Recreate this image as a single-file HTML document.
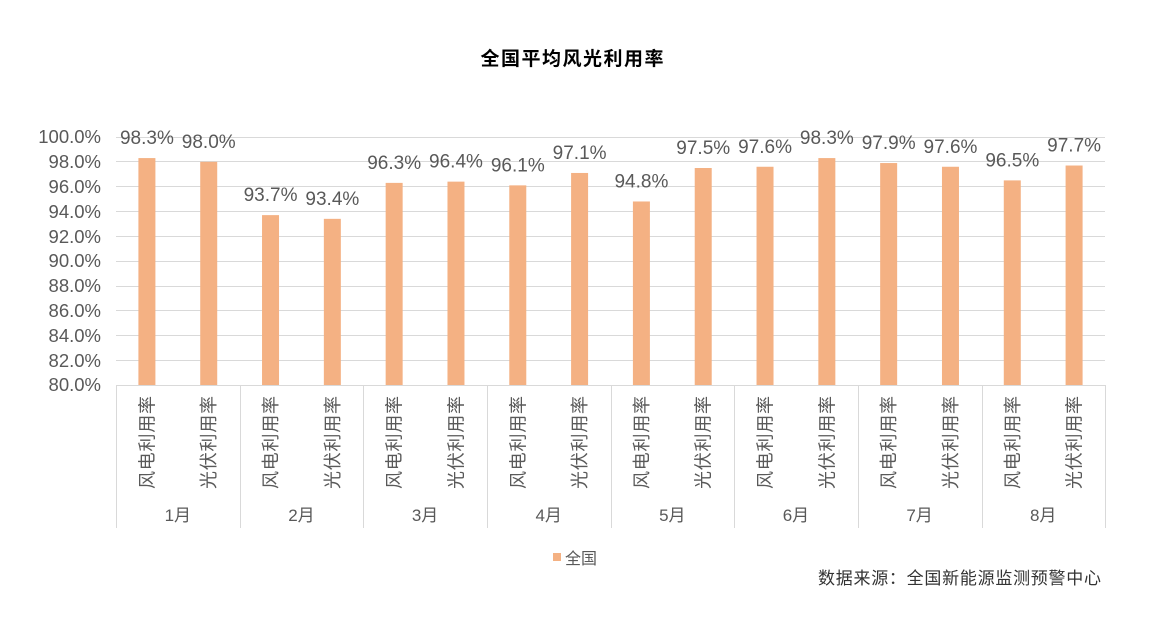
<!DOCTYPE html>
<html><head><meta charset="utf-8"><style>
html,body{margin:0;padding:0;background:#fff;}
svg{display:block;font-family:"Liberation Sans","Noto Sans CJK SC",sans-serif;}
</style></head><body>
<svg width="1165" height="629" viewBox="0 0 1165 629" xmlns="http://www.w3.org/2000/svg">
<text x="572" y="65" text-anchor="middle" font-size="19" font-weight="bold" fill="#000" textLength="183">全国平均风光利用率</text>
<g stroke="#d9d9d9" stroke-width="1">
<line x1="116" x2="1105" y1="137.5" y2="137.5"/><line x1="116" x2="1105" y1="161.5" y2="161.5"/>
<line x1="116" x2="1105" y1="186.5" y2="186.5"/><line x1="116" x2="1105" y1="211.5" y2="211.5"/>
<line x1="116" x2="1105" y1="236.5" y2="236.5"/><line x1="116" x2="1105" y1="261.5" y2="261.5"/>
<line x1="116" x2="1105" y1="286.5" y2="286.5"/><line x1="116" x2="1105" y1="310.5" y2="310.5"/>
<line x1="116" x2="1105" y1="335.5" y2="335.5"/><line x1="116" x2="1105" y1="360.5" y2="360.5"/>
<line x1="116" x2="1105" y1="385.5" y2="385.5"/>
<line x1="116.5" x2="116.5" y1="385" y2="528"/><line x1="240.5" x2="240.5" y1="385" y2="528"/>
<line x1="363.5" x2="363.5" y1="385" y2="528"/><line x1="487.5" x2="487.5" y1="385" y2="528"/>
<line x1="611.5" x2="611.5" y1="385" y2="528"/><line x1="734.5" x2="734.5" y1="385" y2="528"/>
<line x1="858.5" x2="858.5" y1="385" y2="528"/><line x1="982.5" x2="982.5" y1="385" y2="528"/>
<line x1="1105.5" x2="1105.5" y1="385" y2="528"/>
</g>
<g font-size="18.5" fill="#595959" text-anchor="end">
<text x="101" y="143">100.0%</text><text x="101" y="168">98.0%</text><text x="101" y="193">96.0%</text>
<text x="101" y="218">94.0%</text><text x="101" y="243">92.0%</text><text x="101" y="267">90.0%</text>
<text x="101" y="292">88.0%</text><text x="101" y="317">86.0%</text><text x="101" y="342">84.0%</text>
<text x="101" y="367">82.0%</text><text x="101" y="391">80.0%</text>
</g>
<g id="bars" fill="#f4b183"></g>
<g id="lbls" font-size="19" fill="#595959" text-anchor="middle"></g>
<g id="cats" font-size="18" fill="#595959"></g>
<g id="months" font-size="17" fill="#595959" text-anchor="middle"></g>
<rect x="553" y="553" width="8" height="8" fill="#f4b183"/>
<text x="565" y="564" font-size="16" fill="#595959">全国</text>
<text x="1101" y="584" font-size="17" fill="#333" text-anchor="end" textLength="283">数据来源：全国新能源监测预警中心</text>
</svg>
<script>
var v=[98.3,98.0,93.7,93.4,96.3,96.4,96.1,97.1,94.8,97.5,97.6,98.3,97.9,97.6,96.5,97.7];
var ns="http://www.w3.org/2000/svg";
function el(p,t,a,txt){var e=document.createElementNS(ns,t);for(var k in a)e.setAttribute(k,a[k]);if(txt)e.textContent=txt;document.getElementById(p).appendChild(e);}
var gw=(1105-116)/8;
for(var i=0;i<16;i++){
 var g=Math.floor(i/2),cx=116+g*gw+(i%2?0.75:0.25)*gw;
 var y=385-(v[i]-80)*12.4;
 el("bars","rect",{x:cx-8.5,y:y,width:17,height:385-y});
 el("lbls","text",{x:cx,y:y-14},v[i].toFixed(1)+"%");
 el("cats","text",{x:0,y:0,transform:"translate("+(cx+6.5)+",489) rotate(-90)",textLength:"93"},i%2?"光伏利用率":"风电利用率");
 if(i%2==0) el("months","text",{x:116+g*gw+gw/2,y:521},(g+1)+"月");
}
</script>
</body></html>
